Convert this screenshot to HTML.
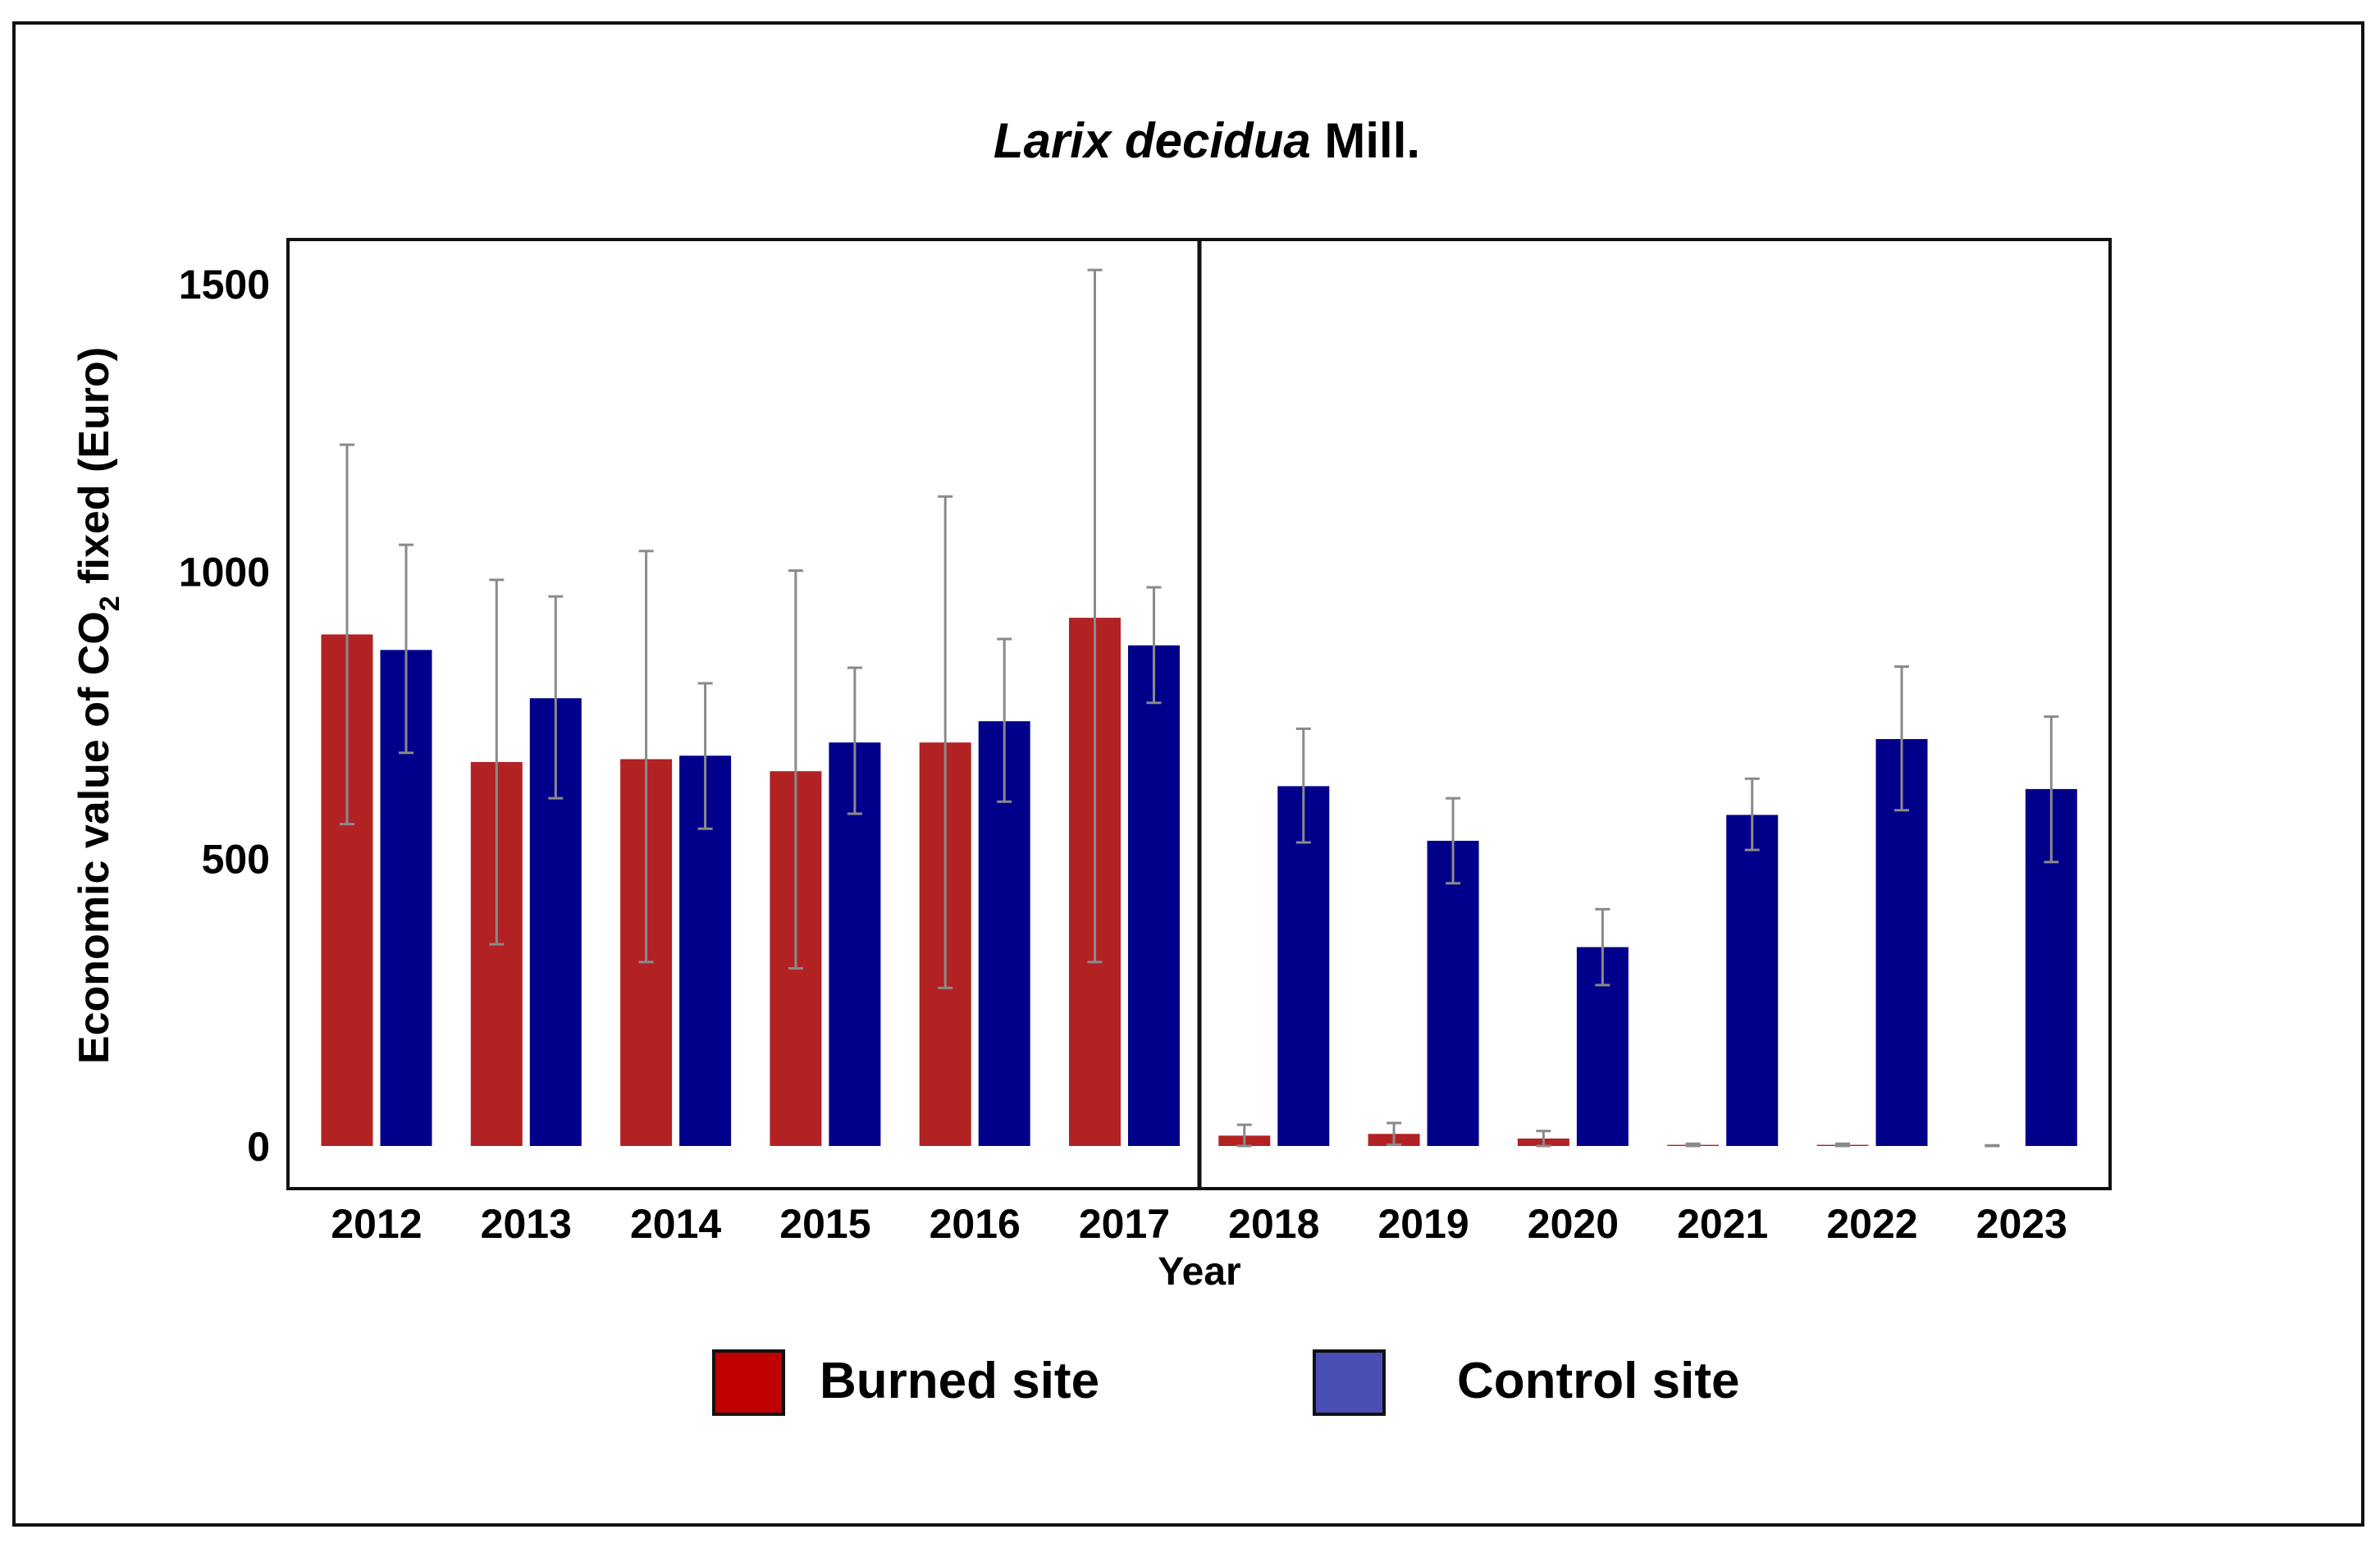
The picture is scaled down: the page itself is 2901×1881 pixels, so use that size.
<!DOCTYPE html>
<html><head><meta charset="utf-8"><style>
html,body{margin:0;padding:0;background:#fff;}
svg{display:block;font-family:"Liberation Sans",sans-serif;}
</style></head><body>
<svg id="chart" width="2901" height="1881" viewBox="0 0 2901 1881">
<rect x="17" y="28" width="2863" height="1831" fill="#fff" stroke="#111" stroke-width="4"/>
<text x="1471" y="192" text-anchor="middle" font-size="60" font-weight="bold"><tspan font-style="italic">Larix decidua</tspan> Mill.</text>
<g id="bars"></g>
<rect x="351" y="292" width="2221" height="1157" fill="none" stroke="#111" stroke-width="4"/>
<line x1="1462" y1="292" x2="1462" y2="1449" stroke="#111" stroke-width="5"/>
<g id="yticks"></g>
<g id="xticks"></g>
<text transform="translate(132,860) rotate(-90)" text-anchor="middle" font-size="52" font-weight="bold">Economic value of CO<tspan font-size="34" dy="13">2</tspan><tspan dy="-13"> fixed (Euro)</tspan></text>
<text x="1462" y="1566" text-anchor="middle" font-size="48" font-weight="bold">Year</text>
<g>
<rect x="870" y="1647" width="85" height="77" fill="#c00000" stroke="#111" stroke-width="4"/>
<text x="999" y="1704" font-size="62" font-weight="bold">Burned site</text>
<rect x="1602" y="1647" width="85" height="77" fill="#4b4fb5" stroke="#111" stroke-width="4"/>
<text x="1776" y="1704" font-size="62" font-weight="bold">Control site</text>
</g>
</svg>
<script>
const years = ['2012','2013','2014','2015','2016','2017','2018','2019','2020','2021','2022','2023'];
const burned = [890,668,673,652,702,919,18,21,13,2,2,0];
const burnedHi = [1220,985,1035,1001,1130,1524,37,40,26,4,4,1];
const burnedLo = [560,351,320,309,275,320,0,2,0,0,0,0];
const control = [863,779,679,702,739,871,626,531,346,576,708,621];
const controlHi = [1046,956,805,832,882,972,726,605,412,639,834,747];
const controlLo = [684,605,552,578,599,771,528,457,280,515,584,494];
const yTicks = [0,500,1000,1500];

const NS='http://www.w3.org/2000/svg';
const y0=1397, pxPerUnit=1051/1500;
function yS(v){return y0 - v*pxPerUnit;}
function xS(i){return 459 + i*182.3;}
const barW=63, gap=9;
function mk(tag,attrs,parent){const e=document.createElementNS(NS,tag);for(const k in attrs)e.setAttribute(k,attrs[k]);parent.appendChild(e);return e;}
const gb=document.getElementById('bars');
function drawBar(cx,v,hi,lo,col,name){
  const top=yS(v);
  const r=mk('rect',{x:cx-barW/2,y:top,width:barW,height:Math.max(y0-top,0.001),fill:col},gb);
  
  
  const eg=mk('g',{stroke:'#8a8a8a','stroke-width':3},gb);
  
  
  mk('line',{x1:cx,x2:cx,y1:yS(hi),y2:yS(lo)},eg);
  mk('line',{x1:cx-9,x2:cx+9,y1:yS(hi),y2:yS(hi)},eg);
  mk('line',{x1:cx-9,x2:cx+9,y1:yS(lo),y2:yS(lo)},eg);
}
years.forEach((yr,i)=>{
  const c=xS(i);
  drawBar(c-(barW+gap)/2,burned[i],burnedHi[i],burnedLo[i],'#b22222','bar-burned-'+yr);
  drawBar(c+(barW+gap)/2,control[i],controlHi[i],controlLo[i],'#00008b','bar-control-'+yr);
  const t=mk('text',{x:c,y:1509,'text-anchor':'middle','font-size':50,'font-weight':'bold'},document.getElementById('xticks'));
  t.textContent=yr;
  
  
});
yTicks.forEach(v=>{
  const t=mk('text',{x:329,y:yS(v)+18,'text-anchor':'end','font-size':50,'font-weight':'bold'},document.getElementById('yticks'));
  t.textContent=v;
  
  
});
</script>
</body></html>
